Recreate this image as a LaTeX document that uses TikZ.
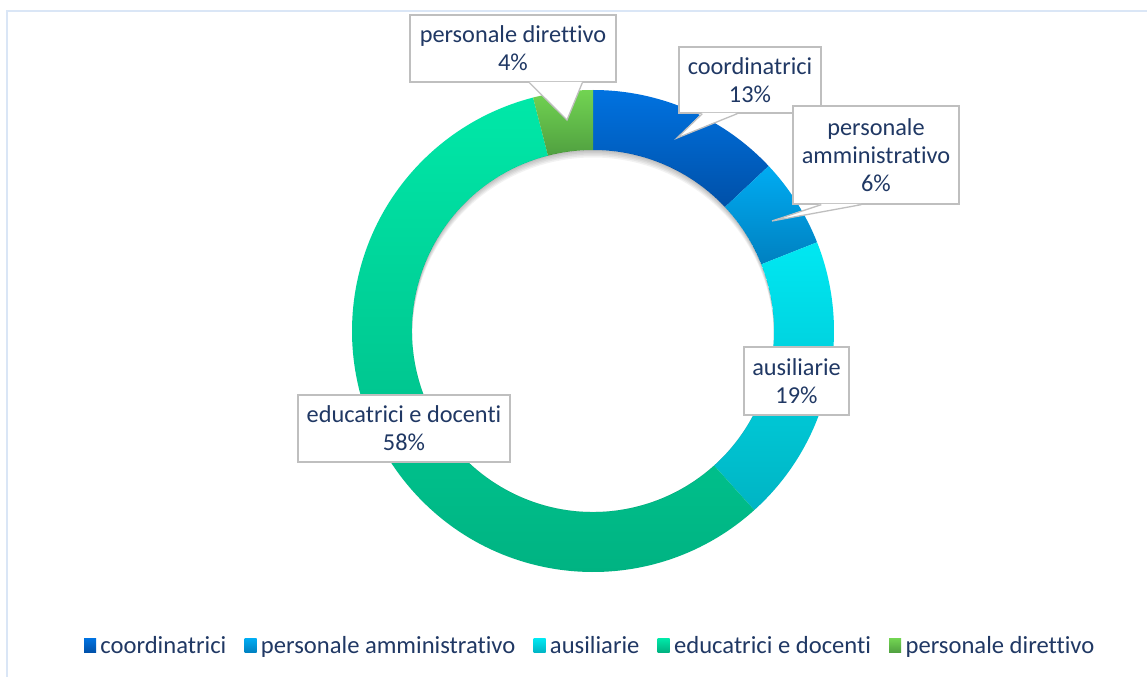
\documentclass[tikz,border=0pt]{standalone}
\usepackage{fontspec}
\setmainfont{Carlito}[Ligatures={NoCommon}]
\usetikzlibrary{calc}
\definecolor{txt}{RGB}{32,56,100}
\definecolor{framec}{RGB}{218,230,246}
\definecolor{boxline}{RGB}{191,191,191}
\definecolor{coordT}{RGB}{0,114,224}
\definecolor{coordB}{RGB}{0,80,168}
\definecolor{ammT}{RGB}{0,172,242}
\definecolor{ammB}{RGB}{0,128,192}
\definecolor{ausT}{RGB}{0,232,242}
\definecolor{ausB}{RGB}{0,180,196}
\definecolor{eduT}{RGB}{0,232,168}
\definecolor{eduB}{RGB}{0,176,128}
\definecolor{dirT}{RGB}{114,212,82}
\definecolor{dirB}{RGB}{80,160,64}
\begin{document}
\begin{tikzpicture}[x=1bp,y=1bp,
  lab/.style={font=\fontsize{24.4}{28}\selectfont, text=txt, align=center},
  callout/.style={lab, draw=boxline, line width=1.3bp, fill=white, inner sep=0pt},
  legsq/.style={minimum width=12bp, minimum height=14bp, inner sep=0pt},
  legtext/.style={font=\fontsize{24.7}{28}\selectfont, text=txt, inner sep=0pt, anchor=base west}]
\useasboundingbox (0,0) rectangle (1147,-677);
\fill[white] (0,0) rectangle (1147,-677);
\draw[framec, line width=2bp] (7,-677) -- (7,-11.5) -- (1147,-11.5);

% donut
\begin{scope}[shift={(593,-331)}]
  \shade[top color=coordT, bottom color=coordB] (90:241) arc[start angle=90,end angle=43.2,radius=241] -- (43.2:181) arc[start angle=43.2,end angle=90,radius=181] -- cycle;
  \shade[top color=ammT, bottom color=ammB] (43.2:241) arc[start angle=43.2,end angle=21.6,radius=241] -- (21.6:181) arc[start angle=21.6,end angle=43.2,radius=181] -- cycle;
  \shade[top color=ausT, bottom color=ausB] (21.6:241) arc[start angle=21.6,end angle=-48,radius=241] -- (-48:181) arc[start angle=-48,end angle=21.6,radius=181] -- cycle;
  \shade[top color=eduT, bottom color=eduB] (-48:241) arc[start angle=-48,end angle=-255.6,radius=241] -- (-255.6:181) arc[start angle=-255.6,end angle=-48,radius=181] -- cycle;
  \shade[top color=dirT, bottom color=dirB] (104.4:241) arc[start angle=104.4,end angle=90,radius=241] -- (90:181) arc[start angle=90,end angle=104.4,radius=181] -- cycle;
  % inner shadow
  \begin{scope}
    \clip (0,0) circle (181);
    \foreach \d in {1.5,3,4.5,6,7.5}
      \fill[black, opacity=0.05, even odd rule] (0,0) circle (181) (0,-\d) circle (181);
  \end{scope}
\end{scope}

% callouts
\node[callout, minimum width=206bp, minimum height=67bp] (dir) at (513,-48.5) {personale direttivo\\4\%};
\fill[white] ($(dir.south west)+(120,0.8)$) -- (567,-120) -- ($(dir.south west)+(173,0.8)$) -- cycle;
\draw[boxline, line width=1.3bp, line join=miter] ($(dir.south west)+(120,0)$) -- (567,-120) -- ($(dir.south west)+(173,0)$);

\node[callout, minimum width=142bp, minimum height=66bp] (coord) at (750,-80) {coordinatrici\\13\%};
\fill[white] ($(coord.south west)+(24,0.8)$) -- (677,-138) -- ($(coord.south west)+(59,0.8)$) -- cycle;
\draw[boxline, line width=1.3bp, line join=miter] ($(coord.south west)+(24,0)$) -- (677,-138) -- ($(coord.south west)+(59,0)$);

\node[callout, minimum width=166bp, minimum height=98bp] (amm) at (876,-155) {personale\\amministrativo\\6\%};
\fill[white] ($(amm.south west)+(29,0.8)$) -- (772,-221) -- ($(amm.south west)+(69,0.8)$) -- cycle;
\draw[boxline, line width=1.3bp, line join=miter] ($(amm.south west)+(29,0)$) -- (772,-221) -- ($(amm.south west)+(69,0)$);

\node[callout, minimum width=105bp, minimum height=68bp] (aus) at (796.5,-381) {ausiliarie\\19\%};
\node[callout, minimum width=212bp, minimum height=67bp] (edu) at (404,-428.5) {educatrici e docenti\\58\%};

% legend
\node[legsq, top color=coordT, bottom color=coordB] (s1) at (90,-645.5) {};
\node[legtext] (t1) at ($(s1.east)+(4,-7.5)$) {coordinatrici};
\node[legsq, top color=ammT, bottom color=ammB] (s2) at ($(t1.base east)+(24,7.5)$) {};
\node[legtext] (t2) at ($(s2.east)+(4,-7.5)$) {personale amministrativo};
\node[legsq, top color=ausT, bottom color=ausB] (s3) at ($(t2.base east)+(24,7.5)$) {};
\node[legtext] (t3) at ($(s3.east)+(4,-7.5)$) {ausiliarie};
\node[legsq, top color=eduT, bottom color=eduB] (s4) at ($(t3.base east)+(24,7.5)$) {};
\node[legtext] (t4) at ($(s4.east)+(4,-7.5)$) {educatrici e docenti};
\node[legsq, top color=dirT, bottom color=dirB] (s5) at ($(t4.base east)+(24,7.5)$) {};
\node[legtext] (t5) at ($(s5.east)+(4,-7.5)$) {personale direttivo};
\end{tikzpicture}
\end{document}
